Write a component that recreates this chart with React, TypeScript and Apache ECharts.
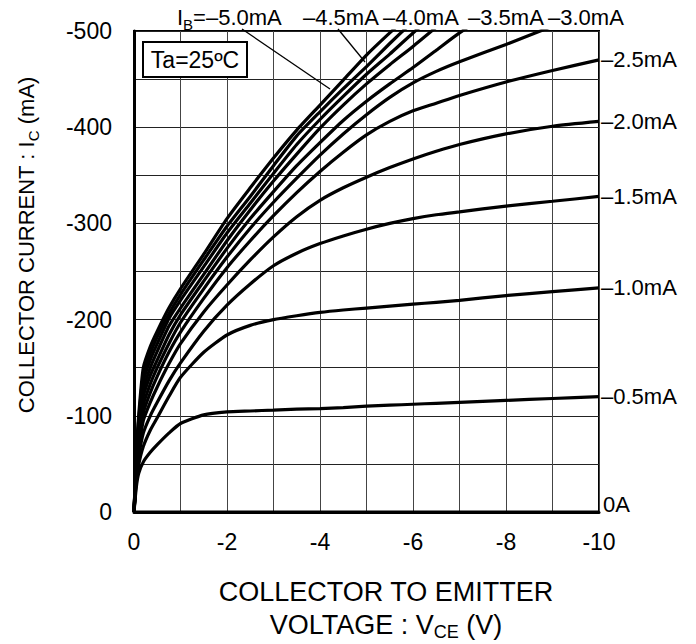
import React, { useEffect, useRef } from "react";
import * as echarts from "echarts";

const FONT = '"Liberation Sans", Arial, Helvetica, sans-serif';

// Collector-emitter voltage sample points (V)
const VCE = [0, -0.05, -0.1, -0.2, -0.35, -0.5, -0.75, -1, -1.5, -2, -2.5, -3, -3.5, -4, -4.5, -5, -5.5, -6, -6.5, -7, -8, -9, -10];

// Collector current (mA) for each base current curve
const IC_0 = [0, 0, 0, 0, 0, 0, 0, 0, 0, 0, 0, 0, 0, 0, 0, 0, 0, 0, 0, 0, 0, 0, 0];
const IC_0_5 = [0, -26, -40, -52, -62, -70, -82, -92, -101, -104, -105, -106, -107, -107.5, -108.5, -110, -111, -112, -113, -114, -116, -118, -120];
const IC_1_0 = [0, -32, -49, -68, -85, -98, -120, -140, -166, -184, -194, -200, -204, -207.5, -210, -212, -214, -216, -218, -220, -225, -229, -233];
const IC_1_5 = [0, -36, -57, -82, -100, -114, -136, -155, -188, -215, -237, -256, -269, -279, -287, -294, -300, -305, -309, -312, -318, -323, -328];
const IC_2_0 = [0, -39, -64, -95, -114, -130, -154, -175, -208, -236, -262, -286, -307, -324, -337, -348, -358, -367, -375, -382, -393, -401, -406];
const IC_2_5 = [0, -42, -70, -103, -124, -141, -166, -187, -222, -254, -282, -308, -332, -354, -374, -392, -406, -417, -425, -433, -447, -459, -470];
const IC_3_0 = [0, -45, -75, -111, -133, -150, -175, -197, -232, -265, -295, -322, -347, -371, -393, -413, -431, -446, -458, -468, -486, -505];
const IC_3_5 = [0, -48, -80, -120, -142, -158, -184, -205, -240, -274, -305, -333, -360, -384, -407, -427, -445, -462, -480, -498, -530];
const IC_4_0 = [0, -51, -85, -128, -150, -167, -193, -212, -247, -282, -314, -344, -372, -399, -423, -445, -465, -484, -504];
const IC_4_5 = [0, -54, -90, -136, -158, -175, -201, -220, -255, -290, -321, -352, -382, -408, -432, -455, -476, -498, -518];
const IC_5_0 = [0, -57, -95, -143, -165, -182, -206, -226, -262, -297, -328, -360, -391, -416, -440, -463, -487, -510];
const IC_TOP = [0, -60, -100, -150, -172, -188, -212, -232, -268, -305, -337, -368, -397, -423, -449, -475, -498, -520];

const CURVES = [IC_0, IC_0_5, IC_1_0, IC_1_5, IC_2_0, IC_2_5, IC_3_0, IC_3_5, IC_4_0, IC_4_5, IC_5_0, IC_TOP];
const CURVE_NAMES = ["0A", "–0.5mA", "–1.0mA", "–1.5mA", "–2.0mA", "–2.5mA", "–3.0mA", "–3.5mA", "–4.0mA", "–4.5mA", "–5.0mA", "top"];
const RIGHT_LABELED = ["0A", "–0.5mA", "–1.0mA", "–1.5mA", "–2.0mA", "–2.5mA"];
const TOP_LABELS = ["–4.5mA", "–4.0mA", "–3.5mA", "–3.0mA"];

const X_MIN = -10;
const X_MAX = 0;
const Y_MIN = -500;
const Y_MAX = 0;

export default function App() {
  const ref = useRef<HTMLDivElement | null>(null);

  useEffect(() => {
    if (!ref.current) return;
    const chart = echarts.init(ref.current, undefined, { renderer: "svg" });

    const series = CURVES.map((ic, k) => {
      const name = CURVE_NAMES[k];
      const labeled = RIGHT_LABELED.includes(name);
      return {
        name,
        type: "line",
        data: ic.map((i, j) => [VCE[j], i]),
        showSymbol: false,
        symbol: "none",
        smooth: 0.2,
        clip: true,
        lineStyle: { color: "#000", width: 3.2 },
        z: 5,
        endLabel: labeled
          ? {
              show: true,
              formatter: name,
              color: "#000",
              fontSize: 22,
              fontFamily: FONT,
              align: "left",
              verticalAlign: "middle",
              distance: 0,
              offset: name === "0A" ? [4, -8] : [2, 0],
            }
          : { show: false },
      };
    });

    const topLabelX = [303, 383, 468, 548];

    const graphic: any[] = [
      // Ta box
      {
        type: "rect",
        shape: { x: 143, y: 42, width: 104, height: 35 },
        style: { fill: "#fff", stroke: "#000", lineWidth: 2 },
        z: 20,
      },
      {
        type: "text",
        x: 195,
        y: 60,
        z: 21,
        style: {
          text: "Ta=25ºC",
          font: `23px ${FONT}`,
          fill: "#000",
          textAlign: "center",
          textVerticalAlign: "middle",
          align: "center",
          verticalAlign: "middle",
        },
      },
      // IB = -5.0mA label
      {
        type: "text",
        x: 177,
        y: 17,
        z: 21,
        style: {
          text: "{n|I}{s|B}{n|=–5.0mA}",
          rich: {
            n: { fontSize: 22, fontFamily: FONT, fill: "#000", color: "#000", lineHeight: 30, verticalAlign: "middle" },
            s: { fontSize: 15, fontFamily: FONT, fill: "#000", color: "#000", lineHeight: 30, verticalAlign: "bottom" },
          },
          textAlign: "left",
          textVerticalAlign: "middle",
          align: "left",
          verticalAlign: "middle",
        },
      },
      ...TOP_LABELS.map((t, k) => ({
        type: "text",
        x: topLabelX[k],
        y: 17,
        z: 21,
        style: {
          text: t,
          font: `22px ${FONT}`,
          fill: "#000",
          textAlign: "left",
          textVerticalAlign: "middle",
          align: "left",
          verticalAlign: "middle",
        },
      })),
      // leader lines
      {
        type: "line",
        shape: { x1: 242, y1: 29, x2: 330, y2: 89 },
        style: { stroke: "#000", lineWidth: 1.3 },
        z: 21,
      },
      {
        type: "line",
        shape: { x1: 338, y1: 29, x2: 365, y2: 62 },
        style: { stroke: "#000", lineWidth: 1.3 },
        z: 21,
      },
      // Y axis title
      {
        type: "text",
        x: 26,
        y: 245,
        rotation: Math.PI / 2,
        z: 21,
        style: {
          text: "{n|COLLECTOR CURRENT : I}{s|C}{n| (mA)}",
          rich: {
            n: { fontSize: 22, fontFamily: FONT, fill: "#000", color: "#000", lineHeight: 30, verticalAlign: "middle" },
            s: { fontSize: 15, fontFamily: FONT, fill: "#000", color: "#000", lineHeight: 30, verticalAlign: "bottom" },
          },
          textAlign: "center",
          textVerticalAlign: "middle",
          align: "center",
          verticalAlign: "middle",
        },
      },
      // X axis title
      {
        type: "text",
        x: 386,
        y: 608,
        z: 21,
        style: {
          text: "{n|COLLECTOR TO EMITTER}\n{n|VOLTAGE : V}{s|CE}{n| (V)}",
          rich: {
            n: { fontSize: 27, fontFamily: FONT, fill: "#000", color: "#000", lineHeight: 33, verticalAlign: "middle" },
            s: { fontSize: 18, fontFamily: FONT, fill: "#000", color: "#000", lineHeight: 33, verticalAlign: "bottom" },
          },
          textAlign: "center",
          textVerticalAlign: "middle",
          align: "center",
          verticalAlign: "middle",
        },
      },
    ];

    chart.setOption({
      animation: false,
      backgroundColor: "#fff",
      grid: {
        left: 134,
        top: 31,
        width: 465,
        height: 481,
        containLabel: false,
        outerBoundsMode: "none",
        show: true,
        borderColor: "#000",
        borderWidth: 2,
        backgroundColor: "transparent",
      },
      xAxis: {
        type: "value",
        min: X_MIN,
        max: X_MAX,
        interval: 1,
        inverse: true,
        position: "bottom",
        axisLine: { show: true, onZero: false, lineStyle: { color: "#000", width: 3 } },
        axisTick: { show: false },
        splitLine: { show: true, lineStyle: { color: "#444", width: 1 } },
        axisLabel: {
          color: "#000",
          fontSize: 23,
          fontFamily: FONT,
          margin: 18,
          formatter: (v: number) => (Math.round(v) % 2 === 0 ? String(Math.round(v) === 0 ? 0 : Math.round(v)) : ""),
        },
      },
      yAxis: {
        type: "value",
        min: Y_MIN,
        max: Y_MAX,
        interval: 50,
        inverse: true,
        position: "left",
        axisLine: { show: true, onZero: false, lineStyle: { color: "#000", width: 3 } },
        axisTick: { show: false },
        splitLine: { show: true, lineStyle: { color: "#222", width: 1 } },
        axisLabel: {
          color: "#000",
          fontSize: 23,
          fontFamily: FONT,
          margin: 22,
          formatter: (v: number) => (Math.round(v) % 100 === 0 ? String(Math.round(v) === 0 ? 0 : Math.round(v)) : ""),
        },
      },
      series,
      graphic,
    });

    return () => {
      chart.dispose();
    };
  }, []);

  return (
    <div
      ref={ref}
      style={{ position: "fixed", left: 0, top: 0, width: 696, height: 644, background: "#fff" }}
    />
  );
}
